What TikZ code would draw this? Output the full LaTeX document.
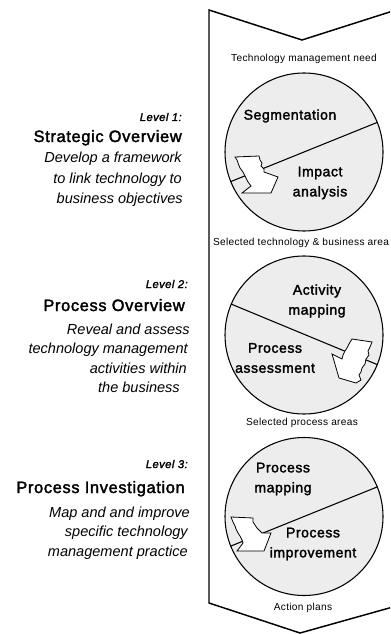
\documentclass[tikz,border=0pt]{standalone}
\usepackage{fontspec}
\setmainfont{Liberation Sans}
\newfontfamily\heavyface{Liberation Sans}[FakeBold=2, LetterSpace=4]
\newfontfamily\spacedface{Liberation Sans}[LetterSpace=3]
\begin{document}
\begin{tikzpicture}[x=0.75pt,y=-0.75pt,
  frame/.style={line width=1.1pt, line join=miter},
  stage/.style={circle, draw, line width=0.8pt, fill=black!7, minimum size=118.5pt, inner sep=0pt},
  divider/.style={line width=0.8pt},
  turn/.style={draw, fill=white, line width=0.6pt, line join=miter},
  flowlabel/.style={font=\spacedface\fontsize{7.6}{9}\selectfont, inner sep=0pt},
  steplabel/.style={font=\heavyface\fontsize{10.5}{15}\selectfont, align=center, inner sep=0pt},
  levelno/.style={font=\heavyface\itshape\fontsize{8.4}{10}\selectfont, anchor=base east, inner sep=0pt},
  levelname/.style={font=\heavyface\fontsize{12.3}{14}\selectfont, anchor=base east, inner sep=0pt},
  leveltext/.style={font=\fontsize{10.9}{13}\selectfont\itshape, anchor=base east, inner sep=0pt}
]
\useasboundingbox (0,0) rectangle (390,634);
\clip (0,0) rectangle (390,634);

% chevron-shaped band holding the three stages
\draw[frame] (396,10) -- (302,40) -- (209,10) -- (209,603) -- (300,633) -- (400,605);

% stage circles
\node[stage] (c1) at (304,152) {};
\node[stage] (c2) at (304,335) {};
\node[stage] (c3) at (304,516.5) {};

% dividing diameters
\draw[divider] (c1.202.5) -- (c1.22.5);
\draw[divider] (c2.157.5) -- (c2.-22.5);
\draw[divider] (c3.202.5) -- (c3.22.5);

% bent block arrows across the dividers
\draw[turn] (235,157) -- (259,156) -- (260,160) -- (262,163) -- (261,166) -- (264,169)
  -- (264,172) -- (278,177) -- (271,193) -- (242,193) -- (251,186) -- (248,182)
  -- (246,178) -- (243,172) -- (240,168) -- (238,163) -- (237,160) -- cycle;
\draw[turn] (352,339) -- (372,342) -- (370,347) -- (368,351) -- (369,355) -- (366,359)
  -- (365,364) -- (362,368) -- (361,372) -- (359,375) -- (361,380) -- (356,383)
  -- (339,378) -- (332,354) -- (342,359) -- (343,355) -- (345,351) -- (347,348)
  -- (349,344) -- cycle;
\draw[turn] (231,517) -- (253,518) -- (253,522) -- (255,525) -- (257,528) -- (260,531)
  -- (262,533) -- (271,533) -- (264,551) -- (237,551) -- (243,543) -- (242,540)
  -- (240,536) -- (238,533) -- (236,529) -- (235,526) -- (233,522) -- cycle;

% step names inside the circles
\node[steplabel] (seg) at (290,116) {Segmentation};
\node[steplabel] (imp) at (320,183) {Impact\\analysis};
\node[steplabel] (act) at (317,301) {Activity\\mapping};
\node[steplabel] (ass) at (275,358) {Process\\assessment};
\node[steplabel] (pm) at (283,479) {Process\\mapping};
\node[steplabel] (pi) at (313,544) {Process\\improvement};

% flow labels between stages
\node[flowlabel] (in) at (304,59) {Technology management need};
\node[flowlabel] (out1) at (301,243) {Selected technology \& business area};
\node[flowlabel] (out2) at (302,423) {Selected process areas};
\node[flowlabel] (out3) at (303,608) {Action plans};

% level descriptions
\node[levelno] (l1) at (182,121) {Level 1:};
\node[levelname] (l1n) at (182,142) {Strategic Overview};
\node[leveltext] (l1a) at (182,163) {Develop a framework};
\node[leveltext] (l1b) at (182,184) {to link technology to};
\node[leveltext] (l1c) at (183,204) {business objectives};

\node[levelno] (l2) at (188,288) {Level 2:};
\node[levelname] (l2n) at (185,311) {Process Overview};
\node[leveltext] (l2a) at (190,334) {Reveal and assess};
\node[leveltext] (l2b) at (188,353) {technology management};
\node[leveltext] (l2c) at (187,373) {activities within};
\node[leveltext] (l2d) at (180,392) {the business};

\node[levelno] (l3) at (188,468) {Level 3:};
\node[levelname] (l3n) at (185,493) {Process Investigation};
\node[leveltext] (l3a) at (190,517) {Map and and improve};
\node[leveltext] (l3b) at (188,536) {specific technology};
\node[leveltext] (l3c) at (188,556) {management practice};
\end{tikzpicture}
\end{document}
